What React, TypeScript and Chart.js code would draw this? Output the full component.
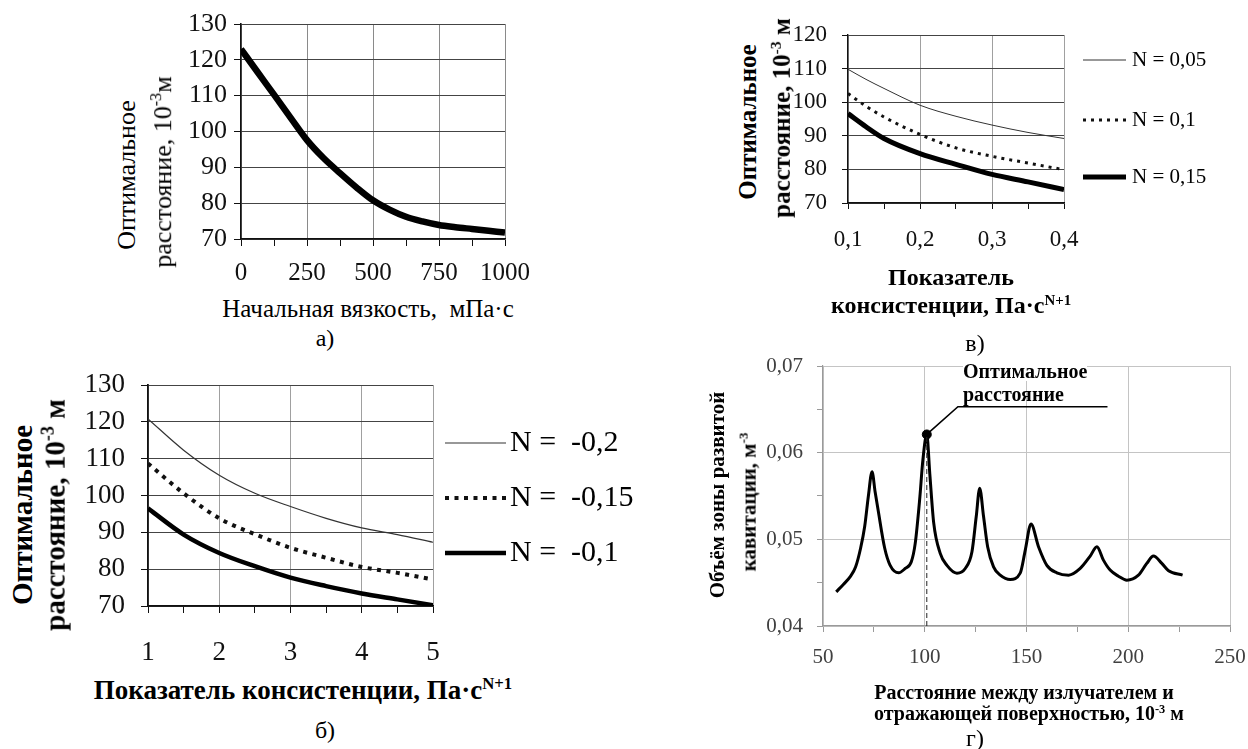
import React, { useEffect, useRef } from "react";
import { Chart, registerables } from "chart.js";

Chart.register(...registerables);

const SERIF = '"Liberation Serif", "Times New Roman", Times, serif';

// ---------- а) Начальная вязкость ----------
const initialViscosity = [0, 62.5, 125, 187.5, 250, 312.5, 375, 437.5, 500, 562.5, 625, 687.5, 750, 812.5, 875, 937.5, 1000];
const optimalDistanceA = [123, 116.6, 110.3, 103.9, 97.6, 92.6, 88.4, 84.4, 80.8, 78.2, 76.2, 74.9, 73.9, 73.3, 72.8, 72.3, 71.8];

// ---------- в) N > 0 ----------
const consistencyV = [0.1, 0.125, 0.15, 0.2, 0.25, 0.3, 0.35, 0.4];
const distanceV005 = [109.8, 106.8, 104.1, 99.1, 95.8, 93.2, 91, 89.2];
const distanceV01 = [102.6, 98.8, 95.6, 90.4, 86.4, 83.9, 81.9, 79.9];
const distanceV015 = [96.6, 92.7, 89.2, 84.7, 81.5, 78.5, 76.3, 74];
const legendV = ["N = 0,05", "N = 0,1", "N = 0,15"];

// ---------- б) N < 0 ----------
const consistencyB = [1, 1.5, 2, 2.5, 3, 3.5, 4, 4.5, 5];
const distanceBm02 = [120.8, 112.3, 105.5, 100.6, 97, 93.8, 91.2, 89.4, 87.3];
const distanceBm015 = [108.7, 100.6, 93.8, 89.5, 85.8, 83.1, 80.6, 79, 77.2];
const distanceBm01 = [96.5, 89.4, 84.4, 80.8, 77.7, 75.4, 73.4, 71.8, 70.2];
const legendB = ["N =  -0,2", "N =  -0,15", "N =  -0,1"];

// ---------- г) Объём зоны развитой кавитации ----------
const emitterDistance = [56.5, 60, 63.4, 66, 68.5, 70.5, 72.3, 74.1, 75.6, 77, 80.3, 83, 87.2, 90.4, 93.4, 95.3, 97.5, 99.1, 101, 102.5, 104.4, 107.6, 110.9, 115.8, 119.9, 123.2, 125.3, 127, 128.9, 130.9, 133.8, 137.1, 142, 146.9, 149.4, 152.2, 155.9, 160, 164.9, 170.7, 176.4, 181.3, 184.6, 187.8, 191.1, 195.2, 199.3, 205, 209.1, 212.4, 216.5, 219.8, 226.7];
const cavitationVolume = [0.04394, 0.0448, 0.0457, 0.0468, 0.049, 0.0515, 0.055, 0.0578, 0.0555, 0.0535, 0.049, 0.047, 0.04614, 0.04664, 0.04741, 0.0495, 0.0546, 0.0592, 0.0621, 0.0575, 0.0519, 0.04838, 0.047, 0.0461, 0.04664, 0.04857, 0.05263, 0.0559, 0.05263, 0.04915, 0.04683, 0.04587, 0.04537, 0.0461, 0.04876, 0.05178, 0.04915, 0.047, 0.04614, 0.04587, 0.04664, 0.04807, 0.04915, 0.0476, 0.04645, 0.04575, 0.04529, 0.04587, 0.04722, 0.04807, 0.04722, 0.04637, 0.04587];
const optimalDistance = 101;
const optimalVolume = 0.0621;
const leaderX = [101, 116.3, 189.8];
const leaderY = [0.0621, 0.0653, 0.0653];

// ---------- helpers ----------
const pts = (xs: number[], ys: number[]) => xs.map((x, i) => ({ x, y: ys[i] }));

type AxisOpts = {
  min: number; max: number; step: number; size: number; fontSize: number;
  tickLength: number; padding: number; gridColor: string; gridEvery: number;
  axisColor: string; axisWidth: number; labelColor: string; tickColor?: string;
  fmt: (v: number, i: number) => string;
};

function axis(o: AxisOpts, horizontal: boolean): any {
  return {
    type: "linear",
    min: o.min,
    max: o.max,
    afterFit: (s: any) => {
      if (horizontal) { s.height = o.size; s.paddingLeft = 0; s.paddingRight = 0; }
      else { s.width = o.size; s.paddingTop = 0; s.paddingBottom = 0; }
    },
    border: { display: true, color: o.axisColor, width: o.axisWidth },
    grid: {
      color: (c: any) => (c.index % o.gridEvery === 0 ? o.gridColor : "rgba(0,0,0,0)"),
      tickColor: o.tickColor || o.axisColor,
      tickLength: o.tickLength,
      lineWidth: 1,
    },
    ticks: {
      stepSize: o.step, autoSkip: false, maxRotation: 0, minRotation: 0,
      padding: o.padding, color: o.labelColor,
      font: { family: SERIF, size: o.fontSize },
      callback: (v: any, i: number) => o.fmt(Number(v), i),
    },
  };
}

function lineLegend(ys: number[], x0: number, x1: number, tx: number, font: string) {
  return {
    id: "lineLegend",
    afterDraw(chart: any) {
      const ctx = chart.ctx;
      chart.data.datasets.forEach((ds: any, i: number) => {
        if (ys[i] === undefined) return;
        ctx.save();
        ctx.strokeStyle = ds.borderColor;
        ctx.lineWidth = ds.borderWidth;
        ctx.setLineDash(ds.borderDash || []);
        ctx.beginPath();
        ctx.moveTo(x0, ys[i]);
        ctx.lineTo(x1, ys[i]);
        ctx.stroke();
        ctx.setLineDash([]);
        ctx.fillStyle = "#000";
        ctx.font = font;
        ctx.textBaseline = "middle";
        ctx.textAlign = "left";
        ctx.fillText(ds.label, tx, ys[i]);
        ctx.restore();
      });
    },
  };
}

const baseOptions = (padding: any) => ({
  responsive: false,
  animation: false as const,
  devicePixelRatio: 1,
  events: [] as any[],
  layout: { padding },
  plugins: { legend: { display: false }, tooltip: { enabled: false } },
});

function ChartBox({ left, top, width, height, make }: { left: number; top: number; width: number; height: number; make: () => any }) {
  const ref = useRef<HTMLCanvasElement>(null);
  useEffect(() => {
    const chart = new Chart(ref.current as HTMLCanvasElement, make());
    return () => chart.destroy();
  }, []);
  return <canvas ref={ref} width={width} height={height} style={{ position: "absolute", left, top, width, height }} />;
}

function T({ x, y, size, bold, rot, left, bg, children }: any) {
  const style: any = {
    position: "absolute", left: x, top: y, fontSize: size, fontWeight: bold ? 700 : 400,
    whiteSpace: "pre", lineHeight: 1, fontFamily: SERIF, color: "#000",
    transform: left ? "translate(0,-50%)" : `translate(-50%,-50%)${rot ? " rotate(-90deg)" : ""}`,
    background: bg || "transparent",
  };
  return <div style={style}>{children}</div>;
}
const Sup = ({ children }: any) => <span style={{ fontSize: "0.62em", verticalAlign: "0.6em" }}>{children}</span>;

// ---------- charts ----------
const makeA = () => ({
  type: "line",
  data: {
    datasets: [{
      label: "а", data: pts(initialViscosity, optimalDistanceA), borderColor: "#000", borderWidth: 6.5,
      pointRadius: 0, cubicInterpolationMode: "monotone", fill: false,
    }],
  },
  options: {
    ...baseOptions({ left: 0, right: 35, top: 24, bottom: 0 }),
    scales: {
      x: axis({ min: 0, max: 1000, step: 125, size: 53, fontSize: 25, tickLength: 7, padding: 12, gridColor: "#8a8a8a", gridEvery: 2, axisColor: "#111", axisWidth: 1.6, labelColor: "#111", fmt: (v, i) => (i % 2 === 0 ? String(v) : "") }, true),
      y: axis({ min: 70, max: 130, step: 10, size: 71, fontSize: 26, tickLength: 7, padding: 7, gridColor: "#444", gridEvery: 1, axisColor: "#111", axisWidth: 1.6, labelColor: "#111", fmt: (v) => String(v) }, false),
    },
  },
});

const makeV = () => ({
  type: "line",
  data: {
    datasets: [
      { label: legendV[0], data: pts(consistencyV, distanceV005), borderColor: "#333", borderWidth: 1, pointRadius: 0, cubicInterpolationMode: "monotone" },
      { label: legendV[1], data: pts(consistencyV, distanceV01), borderColor: "#111", borderWidth: 3, borderDash: [3, 5], pointRadius: 0, cubicInterpolationMode: "monotone" },
      { label: legendV[2], data: pts(consistencyV, distanceV015), borderColor: "#000", borderWidth: 5, pointRadius: 0, cubicInterpolationMode: "monotone" },
    ],
  },
  options: {
    ...baseOptions({ left: 0, right: 184, top: 15, bottom: 0 }),
    scales: {
      x: axis({ min: 0.1, max: 0.4, step: 0.05, size: 62, fontSize: 23, tickLength: 6, padding: 17, gridColor: "#a0a0a0", gridEvery: 2, axisColor: "#111", axisWidth: 1.4, labelColor: "#111", fmt: (v, i) => (i % 2 === 0 ? v.toFixed(1).replace(".", ",") : "") }, true),
      y: axis({ min: 70, max: 120, step: 10, size: 68, fontSize: 23, tickLength: 6, padding: 15, gridColor: "#444", gridEvery: 1, axisColor: "#111", axisWidth: 1.4, labelColor: "#111", fmt: (v) => String(v) }, false),
    },
  },
  plugins: [lineLegend([40, 100, 157], 303, 346, 352, `21px ${SERIF}`)],
});

const makeB = () => ({
  type: "line",
  data: {
    datasets: [
      { label: legendB[0], data: pts(consistencyB, distanceBm02), borderColor: "#333", borderWidth: 1.2, pointRadius: 0, cubicInterpolationMode: "monotone" },
      { label: legendB[1], data: pts(consistencyB, distanceBm015), borderColor: "#111", borderWidth: 4, borderDash: [4, 5.5], pointRadius: 0, cubicInterpolationMode: "monotone" },
      { label: legendB[2], data: pts(consistencyB, distanceBm01), borderColor: "#000", borderWidth: 4.5, pointRadius: 0, cubicInterpolationMode: "monotone" },
    ],
  },
  options: {
    ...baseOptions({ left: 0, right: 237, top: 20, bottom: 0 }),
    scales: {
      x: axis({ min: 1, max: 5, step: 0.5, size: 64, fontSize: 27, tickLength: 7, padding: 24, gridColor: "#a0a0a0", gridEvery: 2, axisColor: "#111", axisWidth: 1.8, labelColor: "#111", fmt: (v, i) => (i % 2 === 0 ? String(Math.round(v)) : "") }, true),
      y: axis({ min: 70, max: 130, step: 10, size: 78, fontSize: 27, tickLength: 7, padding: 16, gridColor: "#444", gridEvery: 1, axisColor: "#111", axisWidth: 1.8, labelColor: "#111", fmt: (v) => String(v) }, false),
    },
  },
  plugins: [lineLegend([78, 133, 188], 375, 436, 440, `30px ${SERIF}`)],
});

const makeG = () => ({
  type: "line",
  data: {
    datasets: [
      { label: "dash", data: [{ x: optimalDistance, y: 0.04 }, { x: optimalDistance, y: optimalVolume }], borderColor: "#222", borderWidth: 1, borderDash: [5, 3], pointRadius: 0 },
      { label: "volume", data: pts(emitterDistance, cavitationVolume), borderColor: "#000", borderWidth: 3, pointRadius: 0, cubicInterpolationMode: "monotone" },
      { label: "leader", data: pts(leaderX, leaderY), borderColor: "#000", borderWidth: 1.6, pointRadius: 0, tension: 0 },
      { label: "optimum", data: [{ x: optimalDistance, y: optimalVolume }], showLine: false, pointRadius: 4.5, pointBackgroundColor: "#000", pointBorderColor: "#000", pointBorderWidth: 1 },
    ],
  },
  options: {
    ...baseOptions({ left: 0, right: 18, top: 16, bottom: 0 }),
    scales: {
      x: axis({ min: 50, max: 250, step: 25, size: 54, fontSize: 21, tickLength: 6, padding: 13, gridColor: "#c4c4c4", gridEvery: 2, axisColor: "#9a9a9a", axisWidth: 1.2, labelColor: "#404040", fmt: (v, i) => (i % 2 === 0 ? String(Math.round(v)) : "") }, true),
      y: axis({ min: 0.04, max: 0.07, step: 0.005, size: 83, fontSize: 21, tickLength: 6, padding: 14, gridColor: "#c4c4c4", gridEvery: 2, axisColor: "#9a9a9a", axisWidth: 1.2, labelColor: "#404040", fmt: (v, i) => (i % 2 === 0 ? v.toFixed(2).replace(".", ",") : "") }, false),
    },
  },
});

export default function App() {
  return (
    <div style={{ position: "absolute", left: 0, top: 0, width: 1248, height: 749, background: "#fff", overflow: "hidden", fontFamily: SERIF }}>
      {/* а) */}
      <ChartBox left={170} top={0} width={370} height={292} make={makeA} />
      <T x={127} y={175} size={26} rot>Оптимальное</T>
      <T x={162} y={172} size={26} rot>расстояние, 10<Sup>-3</Sup>м</T>
      <T x={368} y={308} size={25}>Начальная вязкость,  мПа·с</T>
      <T x={325} y={338} size={24}>а)</T>

      {/* в) */}
      <ChartBox left={780} top={20} width={468} height={245} make={makeV} />
      <T x={747} y={122} size={25} bold rot>Оптимальное</T>
      <T x={781} y={118} size={25} bold rot>расстояние, 10<Sup>-3</Sup> м</T>
      <T x={951} y={277} size={24} bold>Показатель</T>
      <T x={951} y={305} size={24} bold>консистенции, Па·с<Sup>N+1</Sup></T>
      <T x={975} y={343} size={24}>в)</T>

      {/* б) */}
      <ChartBox left={70} top={365} width={600} height={305} make={makeB} />
      <T x={22} y={515} size={29} bold rot>Оптимальное</T>
      <T x={54} y={515} size={29} bold rot>расстояние, 10<Sup>-3</Sup> м</T>
      <T x={303} y={690} size={27} bold>Показатель консистенции, Па·с<Sup>N+1</Sup></T>
      <T x={325} y={730} size={24}>б)</T>

      {/* г) */}
      <ChartBox left={740} top={350} width={508} height={330} make={makeG} />
      <T x={717} y={495} size={21} bold rot>Объём зоны развитой</T>
      <T x={748} y={502} size={21} bold rot>кавитации, м<Sup>-3</Sup></T>
      <T x={1024} y={692} size={20} bold>Расстояние между излучателем и</T>
      <T x={1029} y={713} size={20} bold>отражающей поверхностью, 10<Sup>-3</Sup> м</T>
      <T x={975} y={738} size={24}>г)</T>
      <T x={963} y={371} size={20} bold left bg="#fff">Оптимальное</T>
      <T x={963} y={394} size={20} bold left>расстояние</T>
    </div>
  );
}
